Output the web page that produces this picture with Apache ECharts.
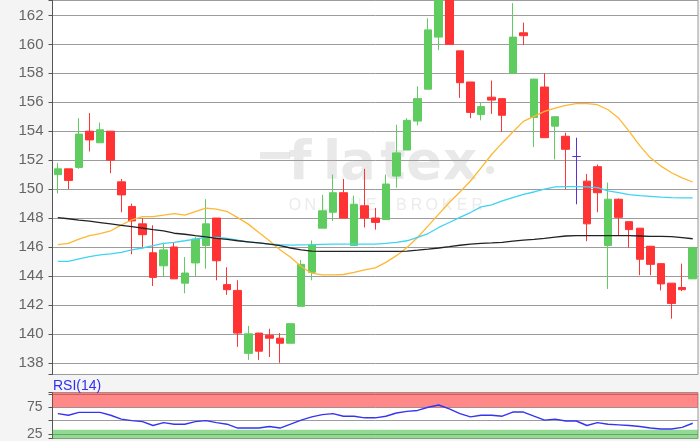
<!DOCTYPE html>
<html><head><meta charset="utf-8">
<script src="https://cdn.jsdelivr.net/npm/echarts@6/dist/echarts.min.js"></script>
<style>html,body{margin:0;padding:0;background:#f4f4f4}#c{width:700px;height:441px}</style>
</head><body><div id="c"></div>
<script>
const categories = ['1','2','3','4','5','6','7','8','9','10','11','12','13','14','15','16','17','18','19','20','21','22','23','24','25','26','27','28','29','30','31','32','33','34','35','36','37','38','39','40','41','42','43','44','45','46','47','48','49','50','51','52','53','54','55','56','57','58','59','60','61'];
const opens  = [151.0,151.4,151.5,154.0,153.2,154.0,150.5,148.8,147.6,145.6,144.7,146.0,143.5,144.9,146.1,148.0,143.4,143.0,138.65,140.05,139.9,139.7,139.35,141.9,144.25,147.3,148.4,149.75,146.1,148.85,148.0,147.9,150.9,152.7,154.7,156.9,160.5,163.4,159.55,157.4,155.15,156.35,156.25,158.0,160.8,154.95,157.05,154.35,153.65,152.25,150.55,151.55,146.1,149.3,147.75,147.3,146.05,144.85,143.5,143.2,143.8];
const closes = [151.4,150.6,153.8,153.4,154.1,152.0,149.6,147.8,146.85,143.9,145.8,143.8,144.2,146.55,147.6,145.05,143.05,140.05,140.0,138.8,139.7,139.35,140.7,144.8,146.15,148.5,149.75,148.0,148.95,148.0,147.7,150.35,152.5,154.75,156.25,161.0,163.6,160.0,157.35,155.3,155.7,156.15,155.1,160.5,160.6,157.6,153.55,155.0,152.75,152.25,147.6,149.75,149.3,148.05,147.2,145.15,144.8,143.45,142.1,143.05,145.95];
const lows   = [149.7,150.0,151.4,152.6,153.2,151.1,148.4,145.5,145.9,143.3,144.0,143.8,142.8,144.0,144.5,143.7,142.7,139.1,138.2,138.2,138.4,138.0,139.35,141.9,143.7,147.3,147.8,148.0,146.1,147.35,147.2,147.9,150.1,152.7,154.4,156.9,159.6,160.0,156.3,154.9,154.75,155.2,153.95,158.0,159.95,152.9,153.55,152.05,150.0,148.95,146.4,148.4,143.1,146.8,145.95,144.05,144.05,143.0,141.05,142.95,143.8];
const highs  = [151.8,151.4,154.9,155.25,154.6,154.0,150.7,149.0,148.0,147.5,146.3,146.3,145.3,146.7,149.3,148.0,144.6,143.7,140.55,140.05,140.35,140.05,140.7,145.1,146.45,149.6,151.0,150.7,149.55,151.4,148.7,151.0,154.45,154.9,157.1,161.8,164.0,164.0,159.55,157.4,155.95,157.5,156.25,162.85,161.5,157.6,158.0,155.0,153.9,153.55,151.05,151.7,150.45,149.35,147.75,147.3,146.05,144.85,143.5,144.85,145.95];
const maShort = [146.16,146.25,146.55,146.78,146.93,147.12,147.51,147.88,148.1,148.1,148.2,148.31,148.2,148.45,148.68,148.61,148.45,148.03,147.58,147.0,146.43,145.81,145.29,144.65,144.19,144.08,144.08,144.1,144.25,144.42,144.56,144.94,145.4,145.97,146.66,147.46,148.27,149.07,149.8,150.56,151.47,152.39,153.19,153.95,154.68,155.02,155.37,155.59,155.78,155.9,155.9,155.83,155.48,154.91,153.99,153.0,152.16,151.59,151.13,150.78,150.49];
const maMid = [145.01,145.01,145.18,145.33,145.45,145.52,145.63,145.8,145.93,146.09,146.25,146.32,146.43,146.55,146.66,146.66,146.59,146.48,146.34,146.28,146.2,146.16,146.13,146.15,146.16,146.18,146.2,146.2,146.2,146.2,146.2,146.25,146.32,146.43,146.66,146.93,147.35,147.69,148.05,148.38,148.77,148.91,149.18,149.41,149.64,149.8,150.0,150.15,150.17,150.17,150.15,150.1,149.87,149.75,149.62,149.55,149.5,149.45,149.41,149.4,149.4];
const maLong = [148.03,147.95,147.86,147.78,147.69,147.6,147.5,147.4,147.3,147.2,147.12,146.95,146.88,146.78,146.7,146.59,146.52,146.43,146.36,146.28,146.2,146.1,145.93,145.8,145.72,145.7,145.7,145.7,145.7,145.7,145.7,145.7,145.7,145.72,145.78,145.85,145.93,146.02,146.12,146.2,146.25,146.28,146.32,146.4,146.48,146.53,146.59,146.68,146.76,146.78,146.78,146.78,146.78,146.78,146.78,146.76,146.74,146.73,146.71,146.65,146.57];
const rsi14 = [63.0,60.0,65.4,65.4,65.4,60.0,52.8,49.9,48.1,40.9,46.3,43.3,43.3,48.1,49.9,46.3,43.3,36.1,36.1,36.1,39.1,36.1,43.3,51.0,57.0,61.2,63.0,58.2,58.2,55.2,55.2,58.2,64.2,67.2,69.0,74.9,79.1,72.0,63.0,57.0,60.0,60.0,58.2,66.0,66.0,58.2,51.0,52.8,49.3,49.3,40.9,46.3,43.3,42.1,40.9,39.1,36.1,34.3,34.3,37.3,45.1];
const rsiLabels = [25, 75];
const rsiOverbought = 75, rsiOversoldTop = 33;
const priceMin = 137.19, priceMax = 163.065, priceStep = 2;
const rsiMin = 16.5, rsiMax = 102.1, rsiStep = 25;

const candleData = opens.map((o, i) => [o, closes[i], lows[i], highs[i]]);

const wmFill = 'rgba(165,165,165,0.24)';
const wm = [];
const wmLetters = ['f','l','a','t','e','x'];
const wmX = [300, 332, 358, 393, 424, 460];
wmLetters.forEach((ch, i) => wm.push({type:'text', x: wmX[i], y: 165, z: 1, silent: true,
  style:{text: ch, fill: wmFill, font:'bold 53px "DejaVu Sans"', align:'center', verticalAlign:'middle'}}));
wm.push({type:'rect', z:1, silent:true, shape:{x:260, y:152, width:30, height:7}, style:{fill: wmFill}});
wm.push({type:'circle', z:1, silent:true, shape:{cx:490, cy:170, r:4}, style:{fill: wmFill}});
const sub = 'ONLINE BROKER'.split('');
sub.forEach((ch, i) => { if (ch !== ' ') wm.push({type:'text', x: 295 + i*15.2, y: 206, z: 1, silent: true,
  style:{text: ch, fill:'rgba(170,170,170,0.24)', font:'16px "Liberation Sans"', align:'center', verticalAlign:'middle'}}); });

const chart = echarts.init(document.getElementById('c'), null, {renderer:'canvas'});
chart.setOption({
  backgroundColor: '#f4f4f4',
  animation: false,
  title: {text: 'RSI(14)', left: 53, top: 379, padding: 0,
    textStyle: {color: '#2f2ff5', fontSize: 14, fontWeight: 'normal', fontFamily: 'Liberation Sans'}},
  graphic: {elements: wm},
  grid: [
    {left: 52.5, right: 2, top: -2, bottom: 66.5, show: true, backgroundColor: '#fff', borderColor: '#999', borderWidth: 1},
    {left: 52.5, right: 2, top: 392.7, bottom: 0, show: true, backgroundColor: '#fff', borderColor: '#999', borderWidth: 1}
  ],
  xAxis: [
    {type: 'category', data: categories, gridIndex: 0, show: false, boundaryGap: true},
    {type: 'category', data: categories, gridIndex: 1, show: false, boundaryGap: true}
  ],
  yAxis: [
    {type: 'value', gridIndex: 0, min: priceMin, max: priceMax, minInterval: priceStep, maxInterval: priceStep,
      axisLine: {show: true, lineStyle: {color: '#555', width: 1}},
      axisTick: {show: true, length: 4, lineStyle: {color: '#555'}},
      axisLabel: {color: '#666', fontSize: 15, fontFamily: 'Liberation Sans', margin: 9,
        formatter: v => Math.abs(v - Math.round(v)) < 1e-6 ? String(Math.round(v)) : ''},
      splitLine: {show: true, lineStyle: {color: '#9c9c9c', width: 1}}},
    {type: 'value', gridIndex: 1, min: rsiMin, max: rsiMax, minInterval: rsiStep, maxInterval: rsiStep,
      axisLine: {show: true, lineStyle: {color: '#555', width: 1}},
      axisTick: {show: true, length: 4, lineStyle: {color: '#555'}},
      axisLabel: {color: '#666', fontSize: 14, fontFamily: 'Liberation Sans', margin: 10,
        formatter: v => rsiLabels.indexOf(Math.round(v * 1000) / 1000) >= 0 ? String(v) : ''},
      splitLine: {show: true, lineStyle: {color: '#9c9c9c', width: 1}}}
  ],
  series: [
    {type: 'candlestick', xAxisIndex: 0, yAxisIndex: 0, data: candleData, barWidth: 8, clip: true, z: 3,
      itemStyle: {color: '#5fcc5f', color0: '#ff3333', borderColor: '#5fcc5f', borderColor0: '#ff3333', borderColorDoji: '#5a32d2', borderWidth: 1}},
    {type: 'line', xAxisIndex: 0, yAxisIndex: 0, data: maShort, showSymbol: false, symbol: 'none', z: 4,
      lineStyle: {color: '#ffb732', width: 1.3}},
    {type: 'line', xAxisIndex: 0, yAxisIndex: 0, data: maMid, showSymbol: false, symbol: 'none', z: 4,
      lineStyle: {color: '#3fd3f2', width: 1.3}},
    {type: 'line', xAxisIndex: 0, yAxisIndex: 0, data: maLong, showSymbol: false, symbol: 'none', z: 4,
      lineStyle: {color: '#222', width: 1.3}},
    {type: 'line', xAxisIndex: 1, yAxisIndex: 1, data: rsi14, showSymbol: false, symbol: 'none', z: 4,
      lineStyle: {color: '#3535f0', width: 1.4},
      markArea: {silent: true, data: [
        [{yAxis: rsiOverbought, itemStyle: {color: 'rgba(255,40,40,0.55)'}}, {yAxis: rsiMax}],
        [{yAxis: rsiMin, itemStyle: {color: 'rgba(40,180,40,0.5)'}}, {yAxis: rsiOversoldTop}]
      ]}}
  ]
});
</script></body></html>
